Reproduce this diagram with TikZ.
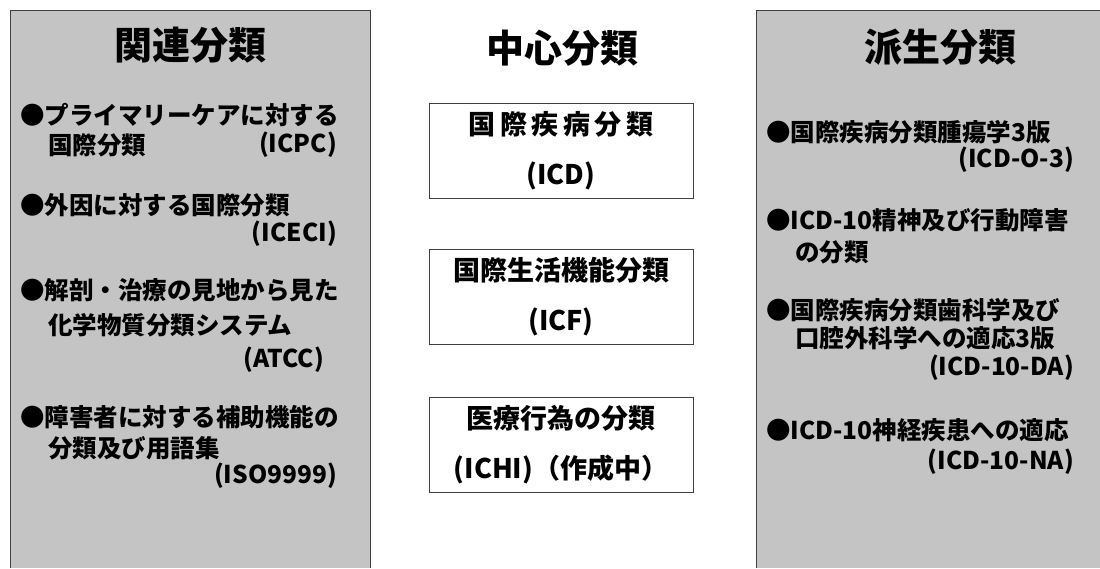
\documentclass[tikz,border=0pt]{standalone}
\usepackage{fontspec}
\newfontfamily\jp{Noto Sans CJK JP}
\definecolor{panelgray}{gray}{0.77}
\definecolor{edgegray}{gray}{0.25}
\tikzset{
  paneledge/.style={draw=edgegray, line width=0.8pt},
  title/.style={font=\jp\bfseries\fontsize{38}{40}\selectfont, inner sep=0pt},
  item/.style={font=\jp\bfseries\fontsize{24.5}{26}\selectfont, inner sep=0pt},
  cbox/.style={draw=edgegray, line width=0.7pt, minimum width=264pt, minimum height=95pt,
    align=center, inner sep=0pt, font=\jp\bfseries\fontsize{27}{50}\selectfont},
}
\begin{document}
\begin{tikzpicture}[x=1pt,y=-1pt]
\useasboundingbox (0,0) rectangle (1100,568);
% panels
\fill[panelgray] (10,10) rectangle (370,568);
\draw[paneledge] (10,568) -- (10,10) -- (370,10) -- (370,568);
\fill[panelgray] (756,10) rectangle (1100,568);
\draw[paneledge] (756,568) -- (756,10) -- (1100,10);

% titles
\node[title] (tleft) at (190,45) {関連分類};
\node[title] (tcenter) at (562,48) {中心分類};
\node[title] (tright) at (940,47) {派生分類};

% left items
\node[item, anchor=west] (l1a) at (20,115) {●プライマリーケアに対する};
\node[item, anchor=west] (l1b) at (48,145) {国際分類};
\node[item, anchor=east] (l1c) at (337,145) {(ICPC)};
\node[item, anchor=west] (l2a) at (20,205) {●外因に対する国際分類};
\node[item, anchor=east] (l2b) at (337,234) {(ICECI)};
\node[item, anchor=west] (l3a) at (20,290) {●解剖・治療の見地から見た};
\node[item, anchor=west] (l3b) at (48,325) {化学物質分類システム};
\node[item, anchor=east] (l3c) at (324,360) {(ATCC)};
\node[item, anchor=west] (l4a) at (20,417) {●障害者に対する補助機能の};
\node[item, anchor=west] (l4b) at (48,448) {分類及び用語集};
\node[item, anchor=east] (l4c) at (337,476) {(ISO9999)};

% center boxes
\node[cbox] (icd) at (561,150.5) {国\,際\,疾\,病\,分\,類\\(ICD)};
\node[cbox] (icf) at (561,297) {国際生活機能分類\\(ICF)};
\node[cbox] (ichi) at (561,444.5) {医療行為の分類\\(ICHI)（作成中）};

% right items
\node[item, anchor=west] (r1a) at (766,132) {●国際疾病分類腫瘍学3版};
\node[item, anchor=east] (r1b) at (1074,160) {(ICD-O-3)};
\node[item, anchor=west] (r2a) at (766,220) {●ICD-10精神及び行動障害};
\node[item, anchor=west] (r2b) at (795,252) {の分類};
\node[item, anchor=west] (r3a) at (766,310) {●国際疾病分類歯科学及び};
\node[item, anchor=west] (r3b) at (795,338) {口腔外科学への適応3版};
\node[item, anchor=east] (r3c) at (1074,368) {(ICD-10-DA)};
\node[item, anchor=west] (r4a) at (766,430) {●ICD-10神経疾患への適応};
\node[item, anchor=east] (r4b) at (1074,462) {(ICD-10-NA)};
\end{tikzpicture}
\end{document}
